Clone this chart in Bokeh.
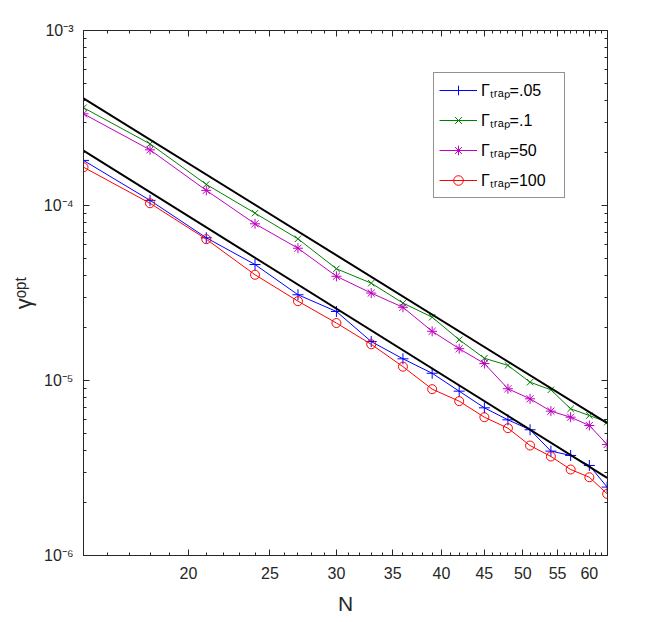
from bokeh.plotting import figure
from bokeh.models import (FixedTicker, LogAxis, CustomJSTickFormatter, Legend, LegendItem,
                          Range1d)
from bokeh.embed import file_html
from bokeh.resources import INLINE

# ---- data ----
N = [15, 18, 21, 24, 27, 30, 33, 36, 39, 42, 45, 48, 51, 54, 57, 60, 63]
gamma_005 = [1.81e-4, 1.07e-4, 6.54e-5, 4.60e-5, 3.09e-5, 2.48e-5, 1.67e-5, 1.33e-5, 1.10e-5,
             8.69e-6, 6.98e-6, 5.96e-6, 5.23e-6, 3.95e-6, 3.73e-6, 3.27e-6, 2.46e-6]
gamma_01 = [3.62e-4, 2.25e-4, 1.32e-4, 9.04e-5, 6.45e-5, 4.35e-5, 3.60e-5, 2.77e-5, 2.30e-5,
            1.71e-5, 1.34e-5, 1.22e-5, 9.78e-6, 8.85e-6, 6.89e-6, 6.31e-6, 5.78e-6]
gamma_50 = [3.34e-4, 2.08e-4, 1.22e-4, 7.86e-5, 5.70e-5, 3.94e-5, 3.16e-5, 2.62e-5, 1.91e-5,
            1.52e-5, 1.25e-5, 8.97e-6, 7.86e-6, 6.68e-6, 6.17e-6, 5.53e-6, 4.31e-6]
gamma_100 = [1.655e-4, 1.03e-4, 6.42e-5, 4.02e-5, 2.84e-5, 2.13e-5, 1.61e-5, 1.20e-5, 8.92e-6,
             7.62e-6, 6.17e-6, 5.34e-6, 4.25e-6, 3.68e-6, 3.10e-6, 2.80e-6, 2.25e-6]
ref_N = [15, 63]
ref_upper = [4.10e-4, 5.70e-6]
ref_lower = [2.06e-4, 2.78e-6]

labels = ["Γₜᵣₐₚ=.05", "Γₜᵣₐₚ=.1", "Γₜᵣₐₚ=50", "Γₜᵣₐₚ=100"]
x_ticks = [20, 25, 30, 35, 40, 45, 50, 55, 60]
x_minor = list(range(16, 64))
y_ticks = [1e-6, 1e-5, 1e-4, 1e-3]
y_minor = [m * 10.0 ** k for k in range(-6, -3) for m in range(2, 10)]

FONT = "Liberation Sans"

p = figure(width=648, height=622, x_axis_type="log", y_axis_type="log",
           x_range=Range1d(15, 63.06), y_range=Range1d(1e-6, 1e-3),
           output_backend="svg", toolbar_location=None,
           min_border_left=83, min_border_right=41, min_border_top=30, min_border_bottom=67)
p.grid.visible = False
p.outline_line_color = "#262626"
p.outline_line_width = 1
p.background_fill_color = "white"
p.border_fill_color = "white"

xt = FixedTicker(ticks=x_ticks, minor_ticks=x_minor)
yt = FixedTicker(ticks=y_ticks, minor_ticks=y_minor)

yfmt = CustomJSTickFormatter(code="""
const e = Math.round(Math.log10(tick));
const sup = {"-":"\u207b","0":"\u2070","1":"\u00b9","2":"\u00b2","3":"\u00b3","4":"\u2074",
             "5":"\u2075","6":"\u2076","7":"\u2077","8":"\u2078","9":"\u2079"};
return "10" + String(e).split("").map(c => sup[c]).join("");
""")
xfmt = CustomJSTickFormatter(code="return String(Math.round(tick));")
blank = CustomJSTickFormatter(code="return '';")


def style_axis(ax):
    ax.axis_line_color = "#262626"
    ax.major_tick_line_color = "#262626"
    ax.minor_tick_line_color = "#262626"
    ax.major_tick_in = 6
    ax.major_tick_out = 0
    ax.minor_tick_in = 3
    ax.minor_tick_out = 0
    ax.major_label_text_font = FONT
    ax.major_label_text_color = "#262626"
    ax.major_label_text_font_size = "16px"
    ax.axis_label_text_font = FONT
    ax.axis_label_text_font_style = "normal"
    ax.axis_label_text_color = "#262626"


xa = p.xaxis[0]
xa.ticker = xt
xa.formatter = xfmt
style_axis(xa)
xa.major_label_standoff = 11
xa.axis_label = "N"
xa.axis_label_text_font_size = "21px"
xa.axis_label_standoff = 10

ya = p.yaxis[0]
ya.ticker = yt
ya.formatter = yfmt
style_axis(ya)
ya.major_label_standoff = 10
ya.axis_label = "γᵒᵖᵗ"
ya.axis_label_text_font_size = "22px"
ya.axis_label_standoff = 5

top = LogAxis(ticker=FixedTicker(ticks=x_ticks, minor_ticks=x_minor), formatter=blank)
style_axis(top)
top.major_label_standoff = 0
p.add_layout(top, "above")
right = LogAxis(ticker=FixedTicker(ticks=y_ticks, minor_ticks=y_minor), formatter=blank)
style_axis(right)
right.major_label_standoff = 0
p.add_layout(right, "right")

series = [
    (gamma_005, "#0000ff", "cross", 11),
    (gamma_01, "#008000", "x", 9),
    (gamma_50, "#bf00bf", "asterisk", 10),
    (gamma_100, "#ff0000", "circle", 9),
]
items = []
for (vals, col, mk, sz), lab in zip(series, labels):
    r1 = p.line(N, vals, line_color=col, line_width=1)
    r2 = p.scatter(N, vals, marker=mk, size=sz, line_color=col, fill_color=None, line_width=1)
    items.append(LegendItem(label=lab, renderers=[r1, r2]))

p.line(ref_N, ref_upper, line_color="black", line_width=2)
p.line(ref_N, ref_lower, line_color="black", line_width=2)

leg = Legend(items=items, location=(350, 357))
leg.label_text_font = FONT
leg.label_text_font_size = "16px"
leg.label_text_color = "black"
leg.glyph_width = 38
leg.glyph_height = 24
leg.label_height = 24
leg.label_width = 78
leg.label_standoff = 4
leg.spacing = 6
leg.padding = 5
leg.margin = 0
leg.border_line_color = "#262626"
leg.border_line_width = 1
leg.background_fill_color = "white"
leg.background_fill_alpha = 1
p.add_layout(leg, "center")

open("out.html", "w").write(file_html(p, INLINE))
